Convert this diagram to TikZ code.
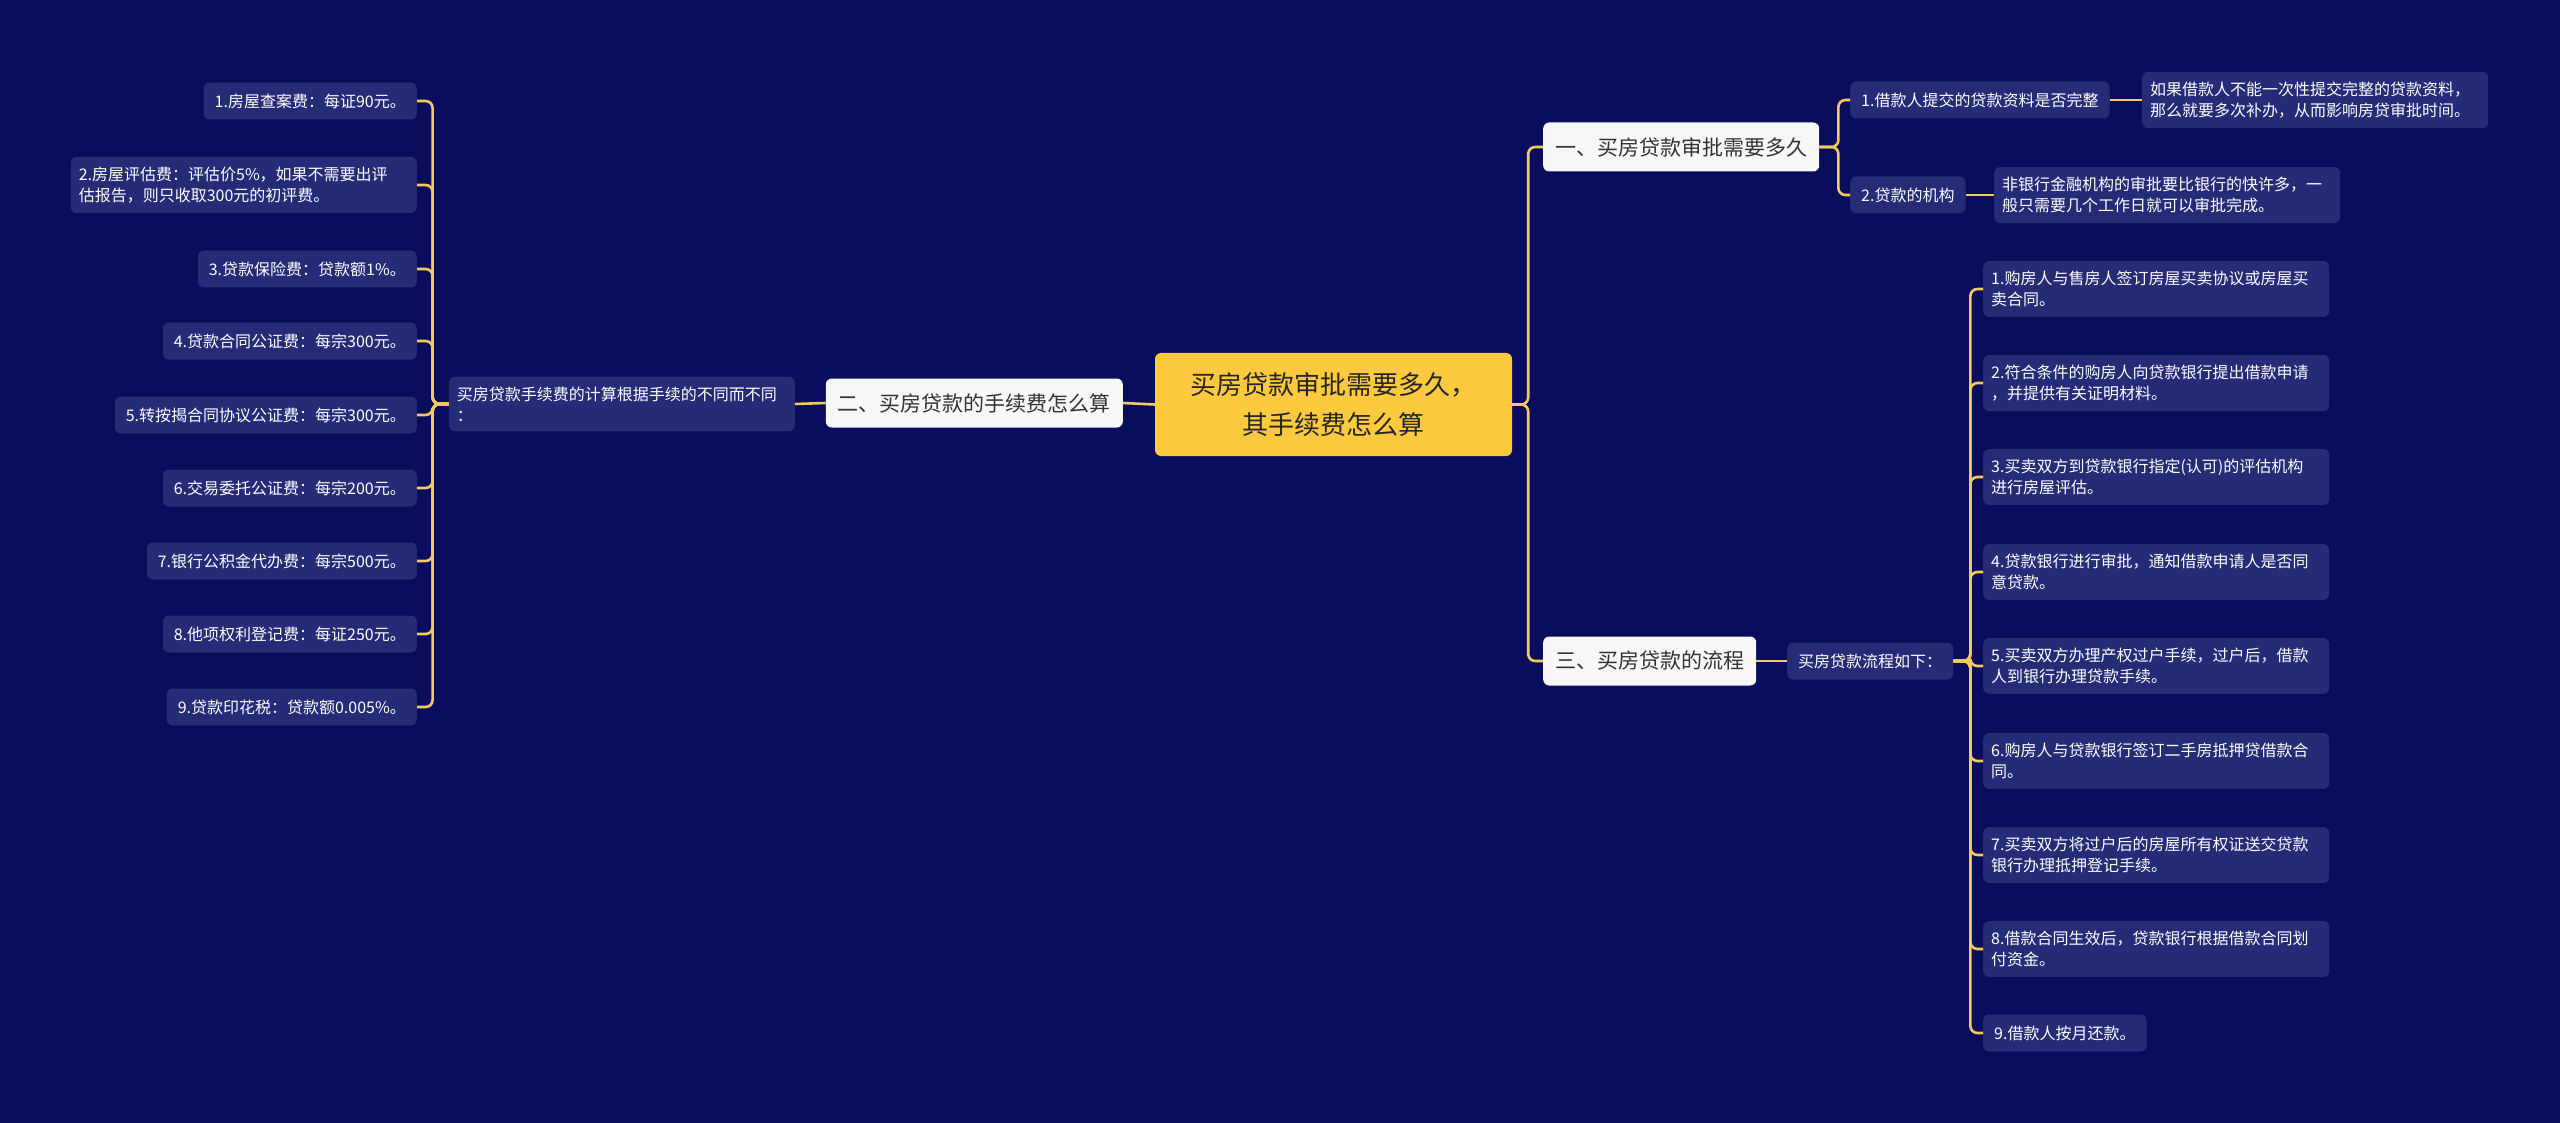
\documentclass[tikz,border=0pt]{standalone}
\usepackage{fontspec}
\setmainfont{Noto Sans CJK SC}
\usetikzlibrary{positioning}
\definecolor{bgNavy}{RGB}{9,13,92}
\definecolor{leafFill}{RGB}{37,43,118}
\definecolor{rootFill}{RGB}{253,201,62}
\definecolor{topicFill}{RGB}{247,247,247}
\definecolor{linkGold}{RGB}{244,201,96}

\begin{document}
\begin{tikzpicture}[
    x=1pt, y=-1pt,
    root/.style={fill=rootFill, rounded corners=6pt, text=black!85, align=center,
      font=\fontsize{26}{40}\selectfont, minimum width=357pt, minimum height=103pt, inner sep=0pt},
    topic/.style={fill=topicFill, rounded corners=6pt, text=black!80,
      font=\fontsize{21}{25}\selectfont, minimum height=49pt, inner xsep=12pt, inner ysep=0pt},
    leaf/.style={fill=leafFill, rounded corners=6pt, text=white, align=left,
      font=\fontsize{16}{21}\selectfont, minimum height=37pt, inner xsep=11pt, inner ysep=10pt},
    wide/.style={text width=330pt, inner xsep=8pt},
    narrow/.style={},
    link/.style={draw=linkGold, line width=2.6pt, rounded corners=7pt},
]
\fill[bgNavy] (0,0) rectangle (2560,1123);

\node[root] (root) at (1333.5,404.5) {买房贷款审批需要多久，\\其手续费怎么算};
\node[topic, anchor=east] (sec2) at (1123,403) {二、买房贷款的手续费怎么算};
\node[topic, anchor=west] (sec1) at (1543,147) {一、买房贷款审批需要多久};
\node[topic, anchor=west] (sec3) at (1543,661) {三、买房贷款的流程};

% fees
\node[leaf, wide, anchor=east] (fee) at (795,404) {买房贷款手续费的计算根据手续的不同而不同\\：};
\foreach \i/\y/\s/\t in {
  1/101/narrow/{1.房屋查案费：每证90元。},
  2/185/wide/{2.房屋评估费：评估价5\%，如果不需要出评\\估报告，则只收取300元的初评费。},
  3/269/narrow/{3.贷款保险费：贷款额1\%。},
  4/341/narrow/{4.贷款合同公证费：每宗300元。},
  5/415/narrow/{5.转按揭合同协议公证费：每宗300元。},
  6/488/narrow/{6.交易委托公证费：每宗200元。},
  7/561/narrow/{7.银行公积金代办费：每宗500元。},
  8/634/narrow/{8.他项权利登记费：每证250元。},
  9/707/narrow/{9.贷款印花税：贷款额0.005\%。}} {
  \node[leaf, \s, anchor=east] (f\i) at (417,\y) {\t};
}

% approval
\node[leaf, anchor=west] (q1) at (1850,100) {1.借款人提交的贷款资料是否完整};
\node[leaf, anchor=west] (q2) at (1850,195) {2.贷款的机构};
\node[leaf, wide, anchor=west] (a1) at (2142,100) {如果借款人不能一次性提交完整的贷款资料，\\那么就要多次补办，从而影响房贷审批时间。};
\node[leaf, wide, anchor=west] (a2) at (1994,195) {非银行金融机构的审批要比银行的快许多，一\\般只需要几个工作日就可以审批完成。};

% process
\node[leaf, anchor=west] (flow) at (1787,661) {买房贷款流程如下：};
\foreach \i/\y/\t in {
  1/289/{1.购房人与售房人签订房屋买卖协议或房屋买\\卖合同。},
  2/383/{2.符合条件的购房人向贷款银行提出借款申请\\，并提供有关证明材料。},
  3/477/{3.买卖双方到贷款银行指定(认可)的评估机构\\进行房屋评估。},
  4/572/{4.贷款银行进行审批，通知借款申请人是否同\\意贷款。},
  5/666/{5.买卖双方办理产权过户手续，过户后，借款\\人到银行办理贷款手续。},
  6/761/{6.购房人与贷款银行签订二手房抵押贷借款合\\同。},
  7/855/{7.买卖双方将过户后的房屋所有权证送交贷款\\银行办理抵押登记手续。},
  8/949/{8.借款合同生效后，贷款银行根据借款合同划\\付资金。}} {
  \node[leaf, wide, anchor=west] (s\i) at (1983,\y) {\t};
}
\node[leaf, anchor=west] (s9) at (1983,1033) {9.借款人按月还款。};

% links
\draw[link] (root.west) -- (sec2.east);
\draw[link] (sec2.west) -- (fee.east);
\foreach \i in {1,...,9} \draw[link] (fee.west) -- ++(-16,0) |- (f\i.east);
\foreach \n in {sec1,sec3} \draw[link] (root.east) -- ++(16,0) |- (\n.west);
\foreach \n in {q1,q2} \draw[link] (sec1.east) -- ++(19,0) |- (\n.west);
\draw[link] (q1.east) -- (a1.west);
\draw[link] (q2.east) -- (a2.west);
\draw[link] (sec3.east) -- (flow.west);
\foreach \i in {1,...,9} \draw[link] (flow.east) -- ++(17,0) |- (s\i.west);
\end{tikzpicture}
\end{document}
